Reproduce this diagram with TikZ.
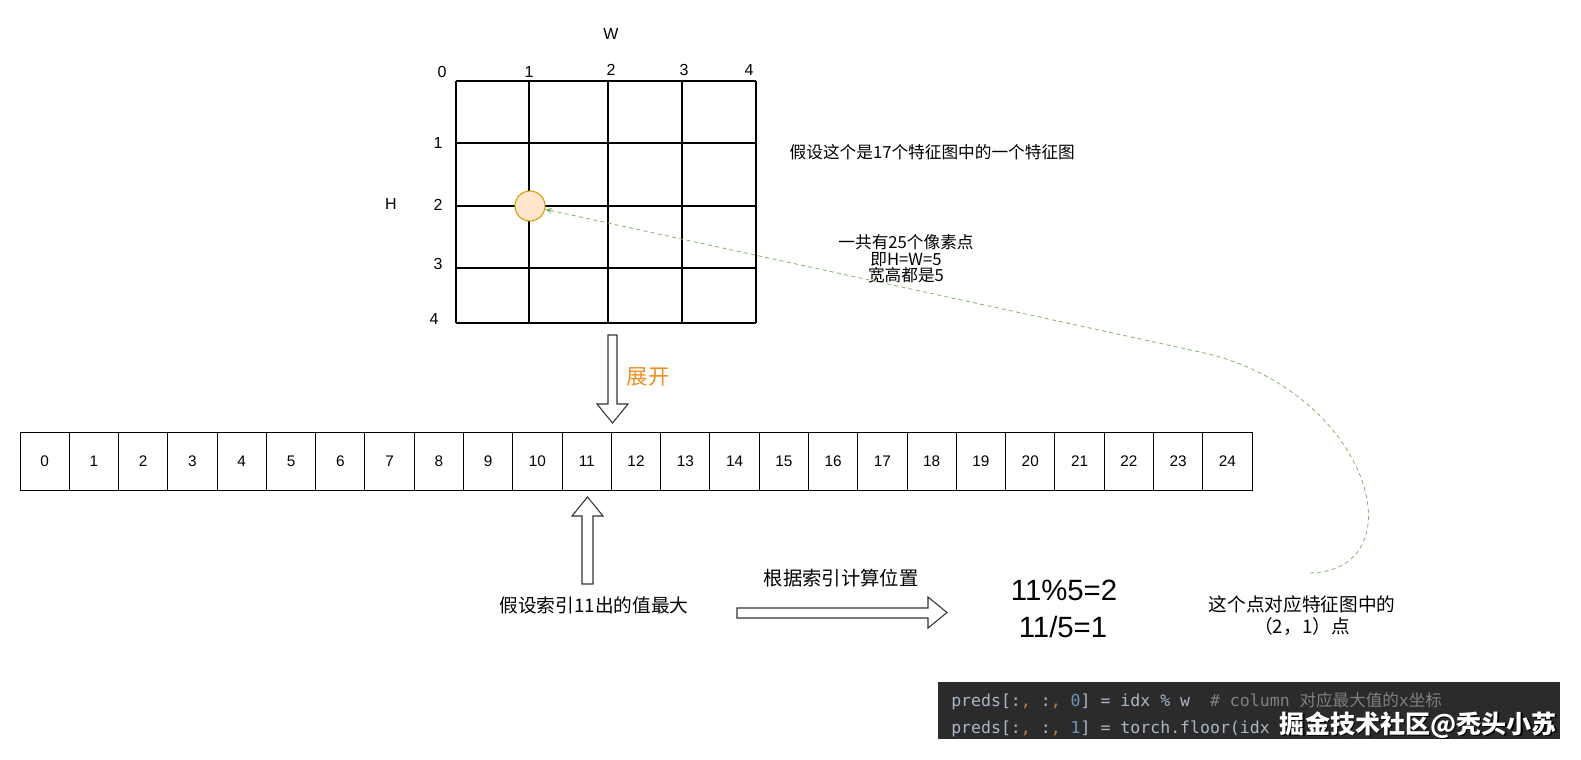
\documentclass[tikz,border=0pt]{standalone}
\usepackage{fontspec}
\setmainfont{Liberation Sans}
\setmonofont{DejaVu Sans Mono}
\newfontfamily\cjk{Noto Sans CJK SC}
\usetikzlibrary{arrows.meta}
\definecolor{dotfill}{HTML}{FFE6CC}
\definecolor{dotline}{HTML}{D79B00}
\definecolor{linkgreen}{HTML}{82B366}
\definecolor{unfold}{RGB}{245,140,30}
\definecolor{codebg}{HTML}{2B2B2B}
\definecolor{codefg}{HTML}{A9B7C6}
\definecolor{codeop}{HTML}{CC7832}
\definecolor{codenum}{HTML}{6897BB}
\definecolor{codecm}{HTML}{808080}
\newcommand{\setsize}[1]{\fontsize{#1}{#1}\selectfont}
\begin{document}
\begin{tikzpicture}[x=0.75pt,y=-0.75pt,
    gridline/.style={line width=0.9pt},
    axislabel/.style={font=\setsize{12}},
    cellbox/.style={draw, line width=0.75pt, minimum width=36.96pt, minimum height=43.5pt, inner sep=0pt, font=\setsize{11.5}},
    note/.style={font=\cjk\setsize{12.5}, align=center},
    blockarrow/.style={draw=black!80, line width=0.8pt, fill=white, line join=miter},
    link/.style={draw=linkgreen, line width=0.6pt, dash pattern=on 3pt off 2.5pt, -{Stealth[length=5pt,width=4pt]}},
    codeline/.style={anchor=base west, inner sep=0pt, font=\ttfamily\setsize{12.4}, text=codefg}]
    \fill[white] (0,0) rectangle (1581,760);
    \useasboundingbox (0,0) rectangle (1581,760);

    % Feature map 5x5
    \foreach \x in {456,529,608,682,756}
        \draw[gridline] (\x,81) -- (\x,323);
    \foreach \y in {81,143,206,268,323}
        \draw[gridline] (456,\y) -- (756,\y);
    \node[axislabel] (lblW) at (611,34) {W};
    \node[axislabel] (lblH) at (391,204) {H};
    \foreach \n/\x/\y in {0/442/72,1/529/72,2/611/70,3/684/70,4/749/70}
        \node[axislabel] (col\n) at (\x,\y) {\n};
    \foreach \n/\x/\y in {1/438/143,2/438/205,3/438/264,4/434/319}
        \node[axislabel] (row\n) at (\x,\y) {\n};
    \node[circle, draw=dotline, fill=dotfill, line width=0.8pt, minimum size=22.5pt, inner sep=0pt] (dot) at (530,206) {};

    % Notes
    \node[note, anchor=west] (mapnote) at (785,152) {假设这个是17个特征图中的一个特征图};
    \node[note] (pixnote) at (906,259) {一共有25个像素点\\即H=W=5\\宽高都是5};

    % Unfold
    \draw[blockarrow] (608,335) -- (617,335) -- (617,404) -- (628,404) -- (612.5,423) -- (597,404) -- (608,404) -- cycle;
    \node[font=\cjk\setsize{16}, text=unfold] (unfoldlbl) at (648,377) {展开};

    % Flattened vector
    \foreach \i in {0,...,24}
        \node[cellbox] (cell\i) at ({20+49.28*(\i+0.5)},461) {\i};

    % Index of maximum
    \draw[blockarrow] (582,584) -- (593,584) -- (593,516) -- (603,516) -- (587.5,497) -- (572,516) -- (582,516) -- cycle;
    \node[font=\cjk\setsize{14}] (maxnote) at (594,605) {假设索引11出的值最大};
    \node[font=\cjk\setsize{14.5}] (calcnote) at (841,578) {根据索引计算位置};
    \draw[blockarrow] (737,608) -- (928,608) -- (928,597) -- (947,612.5) -- (928,628) -- (928,618) -- (737,618) -- cycle;
    \node[font=\setsize{22}] (modres) at (1064,590) {11\%5=2};
    \node[font=\setsize{22}] (divres) at (1063,627) {11/5=1};
    \node[font=\cjk\fontsize{14}{16.5}\selectfont, align=center] (pointnote) at (1302,616) {这个点对应特征图中的\\（2，1）点};

    % Back to the feature map
    \coordinate (linkstart) at (1310,573);
    \draw[link] (linkstart) .. controls (1420,570) and (1370,389) .. (1200,352) -- (dot);

    % Code snippet
    \fill[codebg] (938,682) rectangle (1560,739);
    \node[codeline] (code1) at (951,706) {preds[:{\color{codeop},} :{\color{codeop},} {\color{codenum}0}] = idx \% w\ \ {\color{codecm}\# column {\cjk 对应最大值的}x{\cjk 坐标}}};
    \node[codeline] (code2) at (951,733) {preds[:{\color{codeop},} :{\color{codeop},} {\color{codenum}1}] = torch.floor(idx};
    \node[anchor=base east, inner sep=0pt, font=\cjk\bfseries\setsize{18.8}, text=black] (markshadow) at (1558.5,734.5) {掘金技术社区@秃头小苏};
    \node[anchor=base east, inner sep=0pt, font=\cjk\bfseries\setsize{18.8}, text=white] (mark) at (1557,733) {掘金技术社区@秃头小苏};
\end{tikzpicture}
\end{document}
